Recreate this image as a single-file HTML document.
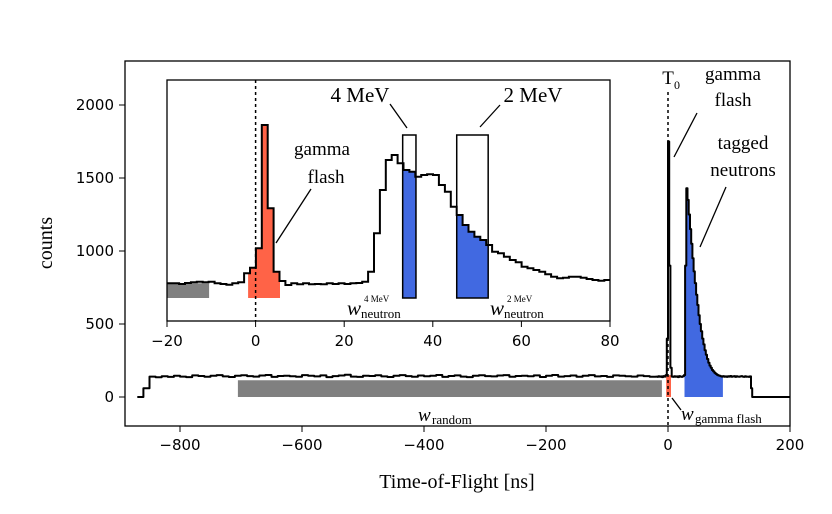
<!DOCTYPE html>
<html><head><meta charset="utf-8"><style>
html,body{margin:0;padding:0;background:#fff;}
svg{display:block;}
.tick{font-family:"DejaVu Sans","Liberation Sans",sans-serif;font-size:15px;fill:#000;}
.serif{font-family:"Liberation Serif","DejaVu Serif",serif;fill:#000;}
</style></head><body>
<svg id="chart" width="832" height="514" viewBox="0 0 832 514" xmlns="http://www.w3.org/2000/svg">
<g id="main"></g>
<g id="inset"></g>
</svg>
<script>
// ---- main data ----
const mainXTicks = [-800, -600, -400, -200, 0, 200];
const mainYTicks = [0, 500, 1000, 1500, 2000];
const bgStart = -870, bgWidth = 10;
const bgCounts = [0,60,140,135,142,138,145,140,136,148,144,139,146,150,141,137,145,149,143,140,
 147,151,138,144,146,142,139,150,145,141,148,136,143,147,152,140,138,146,144,149,
 141,137,145,150,143,139,147,142,146,151,138,144,148,140,136,145,149,143,141,147,
 150,139,144,146,142,148,137,145,151,140,143,147,139,146,150,141,144,138,148,145,
 142,140,147,143,139];
const detStart = -20, detWidth = 2;
const detCounts = [140,138,142,139,141,136,143,140,150,400,1750,900,200,140,138,142,139,141,136,143,
 140,138,142,150,900,1430,1350,1250,1150,1050,950,860,780,700,630,560,500,450,400,360,
 320,290,260,235,215,200,185,175,165,158,152,148,145,142,140,143,139,141,138,142,
 140,144,139,141,143,138,142,140,139,141,143,140,138,142,139,140,138,141,60,0,
 0,0,0,0,0,0,0,0,0,0,0,0,0,0,0,0,0,0,0,0,0,0,0,0,0,0,0,0,0,0];
// ---- inset data ----
const insetXTicks = [-20, 0, 20, 40, 60, 80];
const inStart = -19.93, inWidth = 1.333;
const inCounts = [37.7,37.7,37,38,38.7,39.3,38.7,39.3,37.7,37,36.3,37.7,38.7,47.7,53.3,72.7,196,112.7,49.3,40,36,
 37.7,36.7,37.7,36.7,37,36.7,37.7,37,37.7,37,37.7,38,39.3,49.3,87.7,131,161,166,157.7,151,
 149.3,144.3,146,146.7,146,136,129.3,114.3,106,96,89.3,84.3,81,76,69.3,67.7,64.3,61,58.7,54.3,
 52.7,51,49.3,46.7,44.3,42.7,43.3,44.3,44.3,43.3,42,41,40.3,41];

const NS='http://www.w3.org/2000/svg';
function mk(tag, attrs, parent, text){const e=document.createElementNS(NS,tag);for(const k in attrs)e.setAttribute(k,attrs[k]);if(text!==undefined)e.textContent=text;parent.appendChild(e);return e;}
const main=document.getElementById('main'), inset=document.getElementById('inset');

const X=ns=>668+ns*0.61, Y=c=>397-c*0.146;
const bins=[];
bgCounts.forEach((c,i)=>bins.push([bgStart+i*bgWidth,bgStart+(i+1)*bgWidth,c]));
detCounts.forEach((c,i)=>bins.push([detStart+i*detWidth,Math.min(200,detStart+(i+1)*detWidth),c]));
function stepPath(b,fx,fy){let d='';b.forEach((q,i)=>{d+=(i?'L':'M')+fx(q[0]).toFixed(1)+','+fy(q[2]).toFixed(1)+'L'+fx(q[1]).toFixed(1)+','+fy(q[2]).toFixed(1);});return d;}
function fillArea(b,x0,x1,base,fx,fy,cap){let pts=[[fx(x0),fy(base)]];b.forEach(q=>{const a=Math.max(q[0],x0),e=Math.min(q[1],x1);if(e>a){const v=cap!==undefined?Math.min(q[2],cap):q[2];pts.push([fx(a),fy(v)],[fx(e),fy(v)]);}});pts.push([fx(x1),fy(base)]);return pts.map(p=>p[0].toFixed(1)+','+p[1].toFixed(1)).join(' ');}

let e;
e=mk('polygon',{points:fillArea(bins,-705,-10,0,X,Y,115),fill:'#808080'},main);

e=mk('polygon',{points:fillArea(bins,-3,5,0,X,Y,150),fill:'#ff6347'},main);

e=mk('polygon',{points:fillArea(bins,27,90,0,X,Y),fill:'#4169e1'},main);

e=mk('line',{x1:X(0),y1:92,x2:X(0),y2:426,stroke:'#000','stroke-width':1.5,'stroke-dasharray':'3,3'},main);

e=mk('path',{d:stepPath(bins,X,Y),fill:'none',stroke:'#000','stroke-width':2,'stroke-linejoin':'round'},main);

e=mk('rect',{x:125,y:61,width:665,height:365,fill:'none',stroke:'#000','stroke-width':1.3},main);

mainXTicks.forEach(t=>{mk('line',{x1:X(t),y1:426,x2:X(t),y2:432,stroke:'#000','stroke-width':1},main);
 e=mk('text',{x:X(t),y:450,'text-anchor':'middle',class:'tick'},main,(t<0?'\u2212'+(-t):t));
 });
mainYTicks.forEach(t=>{mk('line',{x1:119,y1:Y(t),x2:125,y2:Y(t),stroke:'#000','stroke-width':1},main);
 e=mk('text',{x:114,y:Y(t)+5,'text-anchor':'end',class:'tick'},main,t);
 });
</script>
<script>
const chart=document.getElementById('chart');
function tx(x,y,s,txt,name,anchor){const t=mk('text',{x:x,y:y,'font-size':s,class:'serif','text-anchor':anchor||'middle'},chart,txt);return t;}
tx(457,488,20,'Time-of-Flight [ns]','x-axis-title');
let yt=tx(0,0,20,'counts','y-axis-title');yt.setAttribute('transform','translate(52,243) rotate(-90)');
tx(668,84,19,'T','t0-label','middle');
tx(674,89,12,'0','t0-subscript','start');
tx(733,80,19,'gamma','main-gamma-label');tx(733,106,19,'flash','main-gamma-label-2');
tx(743,149,19,'tagged','tagged-label');tx(743,176,19,'neutrons','tagged-label-2');
mk('line',{x1:697,y1:113,x2:674,y2:157,stroke:'#000','stroke-width':1.3},chart);
mk('line',{x1:726,y1:187,x2:700,y2:247,stroke:'#000','stroke-width':1.3},chart);
let wr=tx(418,421,19,'w','w-random','start');wr.setAttribute('font-style','italic');
tx(432,424,13,'random','w-random-sub','start');
mk('line',{x1:672,y1:398,x2:681,y2:410,stroke:'#000','stroke-width':1.3},chart);
let wg=tx(681,420,19,'w','w-gamma','start');wg.setAttribute('font-style','italic');
tx(695,423,13,'gamma flash','w-gamma-sub','start');

const XI=ns=>167+(ns+20)*4.43, YI=v=>321-v;
mk('rect',{x:167,y:80,width:443,height:241,fill:'#fff',stroke:'none'},inset);
const ib=inCounts.map((c,i)=>[Math.max(-20,inStart+i*inWidth),Math.min(80,inStart+(i+1)*inWidth),c]);
let q;
q=mk('polygon',{points:fillArea(ib,-20,-10.5,23,XI,YI,37.7),fill:'#808080'},inset);

q=mk('polygon',{points:fillArea(ib,-1.7,5.5,23,XI,YI),fill:'#ff6347'},inset);

q=mk('polygon',{points:fillArea(ib,33.2,36.2,23,XI,YI),fill:'#4169e1'},inset);

q=mk('polygon',{points:fillArea(ib,45.4,52.5,23,XI,YI),fill:'#4169e1'},inset);

q=mk('rect',{x:XI(33.2),y:YI(186),width:XI(36.2)-XI(33.2),height:186-23,fill:'none',stroke:'#000','stroke-width':1.5},inset);

q=mk('rect',{x:XI(45.4),y:YI(186),width:XI(52.5)-XI(45.4),height:186-23,fill:'none',stroke:'#000','stroke-width':1.5},inset);

q=mk('line',{x1:XI(0),y1:80,x2:XI(0),y2:321,stroke:'#000','stroke-width':1.5,'stroke-dasharray':'3,3'},inset);

q=mk('path',{d:stepPath(ib,XI,YI),fill:'none',stroke:'#000','stroke-width':2},inset);

q=mk('rect',{x:167,y:80,width:443,height:241,fill:'none',stroke:'#000','stroke-width':1.3},inset);

insetXTicks.forEach(t=>{mk('line',{x1:XI(t),y1:321,x2:XI(t),y2:327,stroke:'#000','stroke-width':1},inset);
 q=mk('text',{x:XI(t),y:346,'text-anchor':'middle',class:'tick'},inset,(t<0?'\u2212'+(-t):t));
 });
tx(360,102,21,'4 MeV','label-4mev');tx(533,102,21,'2 MeV','label-2mev');
mk('line',{x1:390,y1:104,x2:407,y2:128,stroke:'#000','stroke-width':1.3},chart);
mk('line',{x1:500,y1:105,x2:480,y2:127,stroke:'#000','stroke-width':1.3},chart);
tx(322,155,19,'gamma','inset-gamma-label');tx(326,183,19,'flash','inset-gamma-label-2');
mk('line',{x1:311,y1:189,x2:276,y2:243,stroke:'#000','stroke-width':1.3},chart);
let w4=tx(347,315,21,'w','w-neutron-4mev','start');w4.setAttribute('font-style','italic');
tx(361,318,13,'neutron','w4-sub','start');tx(364,302,9,'4 MeV','w4-sup','start');
let w2=tx(490,315,21,'w','w-neutron-2mev','start');w2.setAttribute('font-style','italic');
tx(504,318,13,'neutron','w2-sub','start');tx(507,302,9,'2 MeV','w2-sup','start');
</script>
</body></html>
